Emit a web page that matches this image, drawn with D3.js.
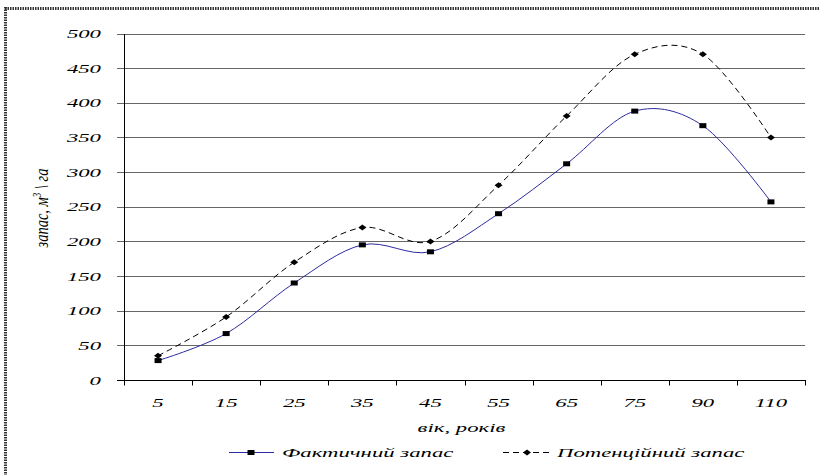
<!DOCTYPE html>
<html><head><meta charset="utf-8">
<script src="https://cdn.jsdelivr.net/npm/d3@7"></script>
<style>body{margin:0;background:#fff}svg{display:block}</style>
</head><body><svg id="c" width="819" height="475"></svg>
<script>
const categories = ["5","15","25","35","45","55","65","75","90","110"];
const actualStock = [28, 67, 140, 195, 185, 240, 312, 388, 367, 257];
const potentialStock = [35, 91, 170, 220, 200, 281, 381, 470, 470, 350];
const yTicks = [0,50,100,150,200,250,300,350,400,450,500];
const seriesNames = ["Фактичний запас", "Потенційний запас"];
const xTitle = "вік, років";

(function(){
const svg = d3.select("#c");
const FONT = "'Liberation Serif','Times New Roman',serif";
const SX = 1.75, FS = 13;
const pLeft = 124, pRight = 805, pTop = 33.5, pBottom = 380;

const x = d3.scaleBand().domain(categories).range([pLeft, pRight]);
const y = d3.scaleLinear().domain([0, 500]).range([pBottom, pTop]);

// frame
svg.append("line").attr("x1",5).attr("x2",819).attr("y1",8.5).attr("y2",8.5)
  .attr("stroke","#333").attr("stroke-width",3).attr("stroke-dasharray","1.5,1");
svg.append("line").attr("x1",5.5).attr("x2",5.5).attr("y1",7).attr("y2",475)
  .attr("stroke","#333").attr("stroke-width",3).attr("stroke-dasharray","1.5,1");

// gridlines
svg.append("g").selectAll("line").data(yTicks.filter(d=>d>0)).join("line")
  .attr("x1", pLeft-7).attr("x2", pRight)
  .attr("y1", d=>Math.round(y(d))+0.5).attr("y2", d=>Math.round(y(d))+0.5)
  .attr("stroke", "#666").attr("stroke-width", 1);

// y axis line
svg.append("line").attr("x1",pLeft+0.5).attr("x2",pLeft+0.5)
  .attr("y1",Math.round(y(500))).attr("y2",Math.round(y(0))+1)
  .attr("stroke","#000");
// x axis
const xa = svg.append("g").attr("transform",`translate(0,${Math.round(y(0))+0.5})`);
xa.append("line").attr("x1",pLeft-7).attr("x2",pRight+1).attr("stroke","#000");
const bounds = categories.map(c=>x(c)).concat([pRight]);
xa.selectAll("line.t").data(bounds).join("line").attr("class","t")
  .attr("x1",d=>Math.round(d)+0.5).attr("x2",d=>Math.round(d)+0.5).attr("y1",0).attr("y2",5)
  .attr("stroke","#000");

function stext(g, txt, tx, ty, anchor, fs){
  return g.append("text").attr("transform",`translate(${tx},${ty}) scale(${SX},1)`)
    .attr("text-anchor",anchor).attr("font-family",FONT).attr("font-style","italic")
    .attr("font-size",fs||FS).attr("fill","#000").text(txt);
}
// y tick labels
yTicks.forEach(v=> stext(svg, v, 101, y(v)+4.5, "end"));
// x tick labels
categories.forEach(c=> stext(svg, c, x(c)+x.bandwidth()/2, 407, "middle"));
// x title
stext(svg, xTitle, (pLeft+pRight)/2-3, 432, "middle");

// y title rotated
const yt = svg.append("text")
  .attr("transform",`translate(48,208) scale(${SX*0.75},1) rotate(-90)`)
  .attr("text-anchor","middle").attr("font-family",FONT).attr("font-style","italic")
  .attr("font-size",14.5).attr("fill","#000");
yt.append("tspan").text("запас, м");
yt.append("tspan").attr("font-size",9).attr("dy",-5).text("3");
yt.append("tspan").attr("dy",5).text(" \\ га");

// lines
const cx = (d,i)=> x(categories[i]) + x.bandwidth()/2;
const line = d3.line().x(cx).y(d=>y(d)).curve(d3.curveCardinal.tension(0));
svg.append("path").datum(potentialStock).attr("d",line).attr("fill","none")
  .attr("stroke","#000").attr("stroke-width",1).attr("stroke-dasharray","6,4");
svg.append("path").datum(actualStock).attr("d",line).attr("fill","none")
  .attr("stroke","#2b2ba0").attr("stroke-width",1);

const diamond = "M0,-3L4,0L0,3L-4,0Z";
svg.append("g").selectAll("path").data(potentialStock).join("path")
  .attr("transform",(d,i)=>`translate(${cx(d,i)},${y(d)})`).attr("d",diamond).attr("fill","#000");
svg.append("g").selectAll("rect").data(actualStock).join("rect")
  .attr("x",(d,i)=>cx(d,i)-3.5).attr("y",d=>y(d)-2.5).attr("width",7).attr("height",5).attr("fill","#000");

// legend
const ly = 452.5;
svg.append("line").attr("x1",229).attr("x2",274).attr("y1",ly).attr("y2",ly).attr("stroke","#2b2ba0");
svg.append("rect").attr("x",247.5).attr("y",ly-2.5).attr("width",7).attr("height",5).attr("fill","#000");
stext(svg, seriesNames[0], 282, ly+4.5, "start");
svg.append("line").attr("x1",503).attr("x2",549).attr("y1",ly).attr("y2",ly).attr("stroke","#000").attr("stroke-dasharray","6,4");
svg.append("path").attr("transform",`translate(527,${ly})`).attr("d",diamond).attr("fill","#000");
stext(svg, seriesNames[1], 557, ly+4.5, "start");
})();
</script></body></html>
